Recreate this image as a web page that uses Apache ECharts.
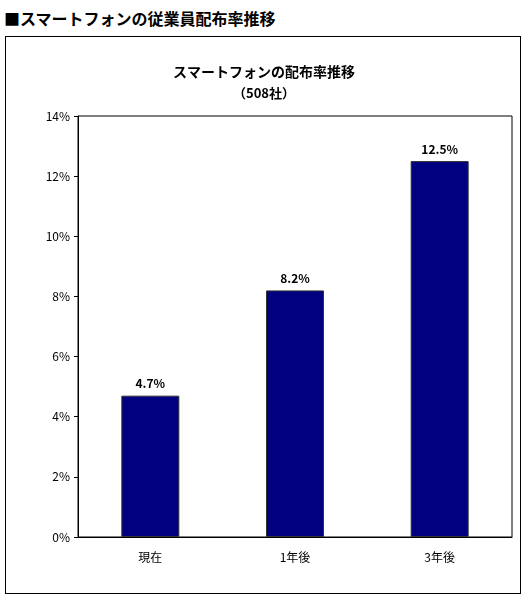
<!DOCTYPE html>
<html>
<head>
<meta charset="utf-8">
<script src="https://cdn.jsdelivr.net/npm/echarts@6/dist/echarts.min.js"></script>
<style>
body { margin: 0; background: #fff; }
#outer { position: absolute; left: 5px; top: 36px; width: 516px; height: 558px; border: 1px solid #000; box-sizing: border-box; }
#head { position: absolute; left: 4px; top: 6px; font: bold 16px "Noto Sans CJK JP"; color: #000; }
#chart { position: absolute; left: 0; top: 0; width: 528px; height: 603px; }
</style>
</head>
<body>
<div id="head">■スマートフォンの従業員配布率推移</div>
<div id="outer"></div>
<div id="chart"></div>
<script>
// データ
const categories = ['現在', '1年後', '3年後'];
const rates = [4.7, 8.2, 12.5];

const chart = echarts.init(document.getElementById('chart'));
const font = '"Noto Sans CJK JP", sans-serif';
chart.setOption({
    animation: false,
    title: {
        text: 'スマートフォンの配布率推移',
        subtext: '（508社）',
        left: 'center',
        top: 60,
        itemGap: 8,
        textStyle: { fontFamily: font, fontSize: 14, fontWeight: 'bold', color: '#000' },
        subtextStyle: { fontFamily: font, fontSize: 13, fontWeight: 'bold', color: '#000' }
    },
    grid: { left: 78, right: 16, top: 116, bottom: 66, show: true, borderColor: '#000', borderWidth: 1 },
    xAxis: {
        type: 'category',
        data: categories,
        axisTick: { show: false },
        axisLine: { lineStyle: { color: '#000' } },
        axisLabel: { fontFamily: font, fontSize: 12, color: '#000', margin: 14 }
    },
    yAxis: {
        type: 'value',
        min: 0, max: 14, interval: 2,
        splitLine: { show: false },
        axisLine: { show: true, lineStyle: { color: '#000' } },
        axisTick: { show: true, inside: false, length: 4, lineStyle: { color: '#000' } },
        axisLabel: { fontFamily: font, fontSize: 12, color: '#000', formatter: '{value}%' }
    },
    series: [{
        type: 'bar',
        data: rates,
        barWidth: 58,
        itemStyle: { color: '#000080', borderColor: '#333', borderWidth: 1 },
        label: {
            show: true, position: 'top', distance: 6,
            formatter: p => p.value.toFixed(1) + '%',
            fontFamily: font, fontSize: 12, fontWeight: 'bold', color: '#000'
        }
    }]
});
</script>
</body>
</html>
